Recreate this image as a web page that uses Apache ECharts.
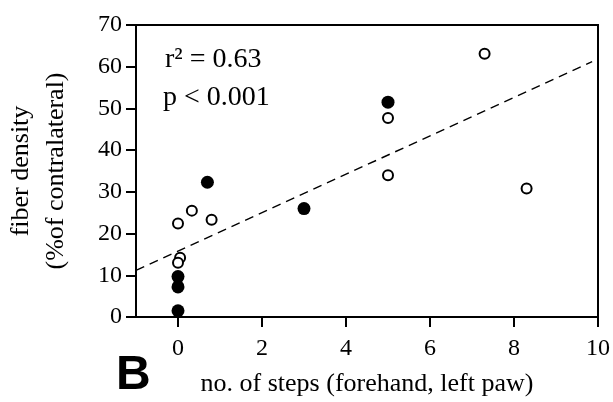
<!DOCTYPE html>
<html>
<head>
<meta charset="utf-8">
<script src="https://cdn.jsdelivr.net/npm/echarts@6/dist/echarts.min.js"></script>
<style>
  html, body { margin: 0; padding: 0; background: #fff; }
  #chart { width: 613px; height: 402px; }
</style>
</head>
<body>
<div id="chart"></div>
<script>
// data
var filledX = [0, 0, 0, 0.7, 3.0, 5.0];
var filledY = [1.5, 7.2, 9.7, 32.3, 26.0, 51.5];
var openX = [0, 0.05, 0, 0.33, 0.8, 5.0, 5.0, 7.3, 8.3];
var openY = [22.4, 14.2, 13.0, 25.5, 23.3, 47.7, 34.0, 63.1, 30.8];
// dashed regression line end points
var fitX = [-1, 9.86];
var fitY = [11.2, 61.2];
var xTicks = [0, 2, 4, 6, 8, 10];

function pairs(xs, ys) {
  return xs.map(function (x, i) { return [x, ys[i]]; });
}

var serif = '"Liberation Serif", "Times New Roman", serif';

var chart = echarts.init(document.getElementById('chart'));

var option = {
  backgroundColor: '#fff',
  animation: false,
  grid: {
    left: 136, right: 15, top: 25, bottom: 85,
    containLabel: false,
    outerBoundsMode: 'none',
    show: true, borderColor: '#000', borderWidth: 2
  },
  xAxis: {
    type: 'value',
    min: -1, max: 10,
    name: 'no. of steps (forehand, left paw)',
    nameLocation: 'middle',
    nameGap: 54,
    nameTextStyle: { color: '#000', fontFamily: serif, fontSize: 26 },
    axisLine: { onZero: false, lineStyle: { color: '#000', width: 2 } },
    axisTick: { inside: false, length: 10, lineStyle: { color: '#000', width: 2 }, customValues: xTicks },
    axisLabel: { color: '#000', fontFamily: serif, fontSize: 24, margin: 20, customValues: xTicks },
    splitLine: { show: false }
  },
  yAxis: {
    type: 'value',
    min: 0, max: 70, interval: 10,
    name: 'fiber density\n(%of contralateral)',
    nameLocation: 'middle',
    nameRotate: 90,
    nameGap: 62,
    nameTextStyle: { color: '#000', fontFamily: serif, fontSize: 26, lineHeight: 35 },
    axisLine: { onZero: false, lineStyle: { color: '#000', width: 2 } },
    axisTick: { inside: false, length: 10, lineStyle: { color: '#000', width: 2 } },
    axisLabel: { color: '#000', fontFamily: serif, fontSize: 24, margin: 14 },
    splitLine: { show: false }
  },
  series: [
    {
      type: 'line',
      data: pairs(fitX, fitY),
      showSymbol: false,
      symbol: 'none',
      lineStyle: { color: '#000', width: 1.4, type: [9, 6] },
      z: 1
    },
    {
      type: 'scatter',
      data: pairs(openX, openY),
      symbol: 'circle',
      symbolSize: 10,
      itemStyle: { color: '#fff', borderColor: '#000', borderWidth: 2, opacity: 1 },
      z: 3
    },
    {
      type: 'scatter',
      data: pairs(filledX, filledY),
      symbol: 'circle',
      symbolSize: 13,
      itemStyle: { color: '#000', opacity: 1 },
      z: 4
    }
  ],
  graphic: [
    {
      type: 'text', left: 165, top: 46,
      style: { text: 'r² = 0.63', fill: '#000', font: '28px ' + serif }
    },
    {
      type: 'text', left: 163, top: 84,
      style: { text: 'p < 0.001', fill: '#000', font: '28px ' + serif }
    },
    {
      type: 'text', left: 116, top: 352,
      style: { text: 'B', fill: '#000', font: 'bold 48px "Liberation Sans", Arial, sans-serif' }
    }
  ]
};

chart.setOption(option);
</script>
</body>
</html>
